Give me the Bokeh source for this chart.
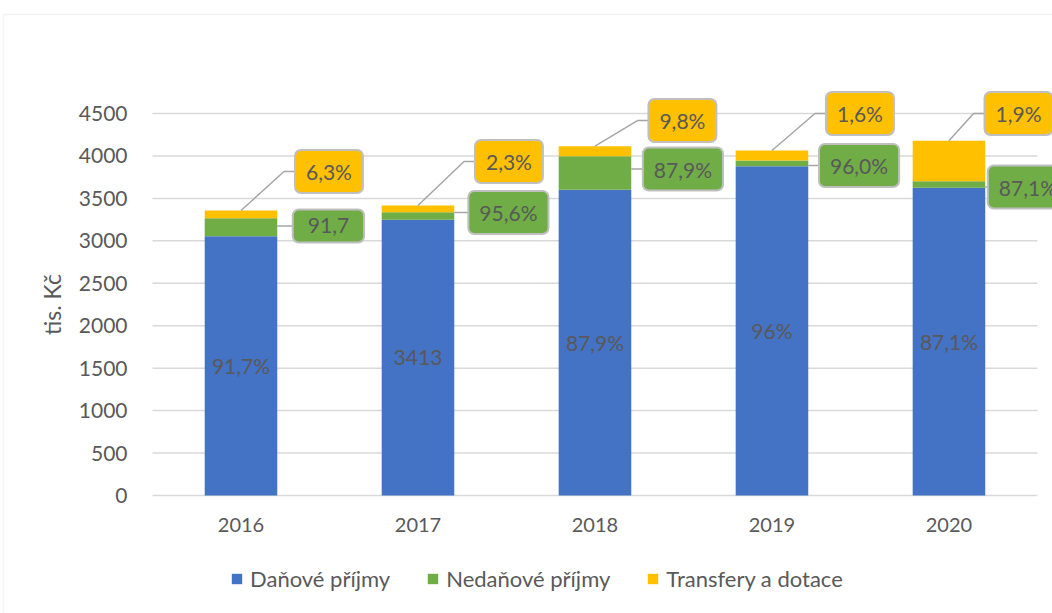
from bokeh.plotting import figure
from bokeh.models import Range1d, FixedTicker, Label, ColumnDataSource, BoxAnnotation
from bokeh.core.properties import value
from bokeh.embed import file_html
from bokeh.resources import INLINE

# ---- data ----
years = ["2016", "2017", "2018", "2019", "2020"]
danove = [3055, 3248, 3601, 3879, 3625]
nedanove = [212, 88, 396, 67, 78]
transfery = [90, 80, 118, 118, 475]
series_names = ["Daňové příjmy", "Nedaňové příjmy", "Transfery a dotace"]
bar_texts = ["91,7%", "3413", "87,9%", "96%", "87,1%"]
green_texts = ["91,7", "95,6%", "87,9%", "96,0%", "87,1%"]
yellow_texts = ["6,3%", "2,3%", "9,8%", "1,6%", "1,9%"]
y_ticks = [0, 500, 1000, 1500, 2000, 2500, 3000, 3500, 4000, 4500]

# ---- layout of callouts (offsets from bars) ----
YEL_DX = [0.497, 0.514, 0.494, 0.497, 0.393]
YEL_Y = [3817, 3934, 4417, 4500, 4500]
GRN_DX = [0.494, 0.511, 0.497, 0.492, 0.446]
GRN_Y = [3175, 3334, 3846, 3887, 3634]
GRN_PADX = [15, 11, 11, 11, 11]
YEL_HALF = 0.192
GRN_HALF = [0.206, 0.226, 0.226, 0.226, 0.226]
ELBOW = 0.062
BAR_W = 0.41

BLUE = "#4472C4"
GREEN = "#70AD47"
YELLOW = "#FFC000"
TXT = "#595959"
GRID = "#d9d9d9"
FONT = "Lato"

xs = list(range(len(years)))
src = ColumnDataSource(dict(x=xs, d=danove, n=nedanove, t=transfery))

X0 = -0.5 - 152 / 177
p = figure(width=1052, height=613, output_backend="svg", toolbar_location=None,
           x_range=Range1d(X0, 4.585), y_range=Range1d(-1390, 5831),
           min_border_left=0, min_border_right=0, min_border_top=0,
           min_border_bottom=0)
p.outline_line_color = None
p.background_fill_color = "white"
p.border_fill_color = "white"
p.xgrid.grid_line_color = None
p.ygrid.grid_line_color = None

# chart-area frame (light border)
p.add_layout(BoxAnnotation(left=X0 + 3 / 177, top=5666, right=6, bottom=-3000,
                           fill_alpha=0, line_color=GRID, line_width=1.5))

# grid lines limited to the category span
p.segment(x0=-0.5, x1=len(years) - 0.5, y0=y_ticks, y1=y_ticks,
          line_color=GRID, line_width=1.5)

p.vbar_stack(["d", "n", "t"], x="x", width=BAR_W, source=src,
             color=[BLUE, GREEN, YELLOW], line_color=None,
             legend_label=series_names)

# axes
p.xaxis.ticker = FixedTicker(ticks=xs)
p.xaxis.major_label_overrides = {i: y for i, y in enumerate(years)}
p.xaxis.fixed_location = 0
p.yaxis.ticker = FixedTicker(ticks=y_ticks)
p.yaxis.bounds = (0, 4500)
p.yaxis.fixed_location = -0.5
for ax in (p.xaxis[0], p.yaxis[0]):
    ax.axis_line_color = None
    ax.major_tick_line_color = None
    ax.minor_tick_line_color = None
    ax.major_label_text_font = FONT
    ax.major_label_text_color = TXT
p.xaxis.major_label_text_font_size = "20px"
p.yaxis.major_label_text_font_size = "21px"
p.xaxis.major_label_standoff = 16
p.yaxis.major_label_standoff = 19
p.yaxis.axis_label = "tis. Kč"
p.yaxis.axis_label_text_font = FONT
p.yaxis.axis_label_text_font_size = "23px"
p.yaxis.axis_label_text_font_style = "normal"
p.yaxis.axis_label_text_color = TXT
p.yaxis.axis_label_standoff = 10

# in-bar labels
p.text(x=xs, y=[d / 2 for d in danove], text=bar_texts, text_font=value(FONT),
       text_font_size="21px", text_color=TXT, text_align="center",
       text_baseline="middle")

# leader lines
totals = [d + n + t for d, n, t in zip(danove, nedanove, transfery)]
lx, ly = [], []
for i in xs:
    left = i + YEL_DX[i] - YEL_HALF
    lx.append([i, left - ELBOW, left])
    ly.append([totals[i], YEL_Y[i], YEL_Y[i]])
    gleft = i + GRN_DX[i] - GRN_HALF[i]
    lx.append([i + BAR_W / 2, gleft])
    ly.append([GRN_Y[i], GRN_Y[i]])
p.multi_line(xs=lx, ys=ly, line_color="#a6a6a6", line_width=1.5)

# callout boxes
for i in xs:
    for dx, yy, txt, col, px in ((YEL_DX, YEL_Y, yellow_texts, YELLOW, 11),
                                 (GRN_DX, GRN_Y, green_texts, GREEN, GRN_PADX[i])):
        p.add_layout(Label(x=i + dx[i], y=yy[i], text=txt[i],
                           text_font=FONT, text_font_size="21px",
                           text_color=TXT, text_align="center",
                           text_baseline="middle",
                           background_fill_color=col,
                           border_line_color="#bfbfbf", border_line_width=2,
                           border_radius=6,
                           padding=dict(left=px, right=px, top=9, bottom=9)))

# legend
lg = p.legend[0]
lg.orientation = "horizontal"
lg.location = (230, 21)
lg.border_line_color = None
lg.background_fill_alpha = 0
lg.padding = 0
lg.margin = 0
lg.spacing = 36
lg.glyph_width = 13
lg.glyph_height = 13
lg.label_standoff = 7
lg.label_text_font = FONT
lg.label_text_font_size = "22px"
lg.label_text_color = TXT

open("out.html", "w").write(file_html(p, INLINE))
